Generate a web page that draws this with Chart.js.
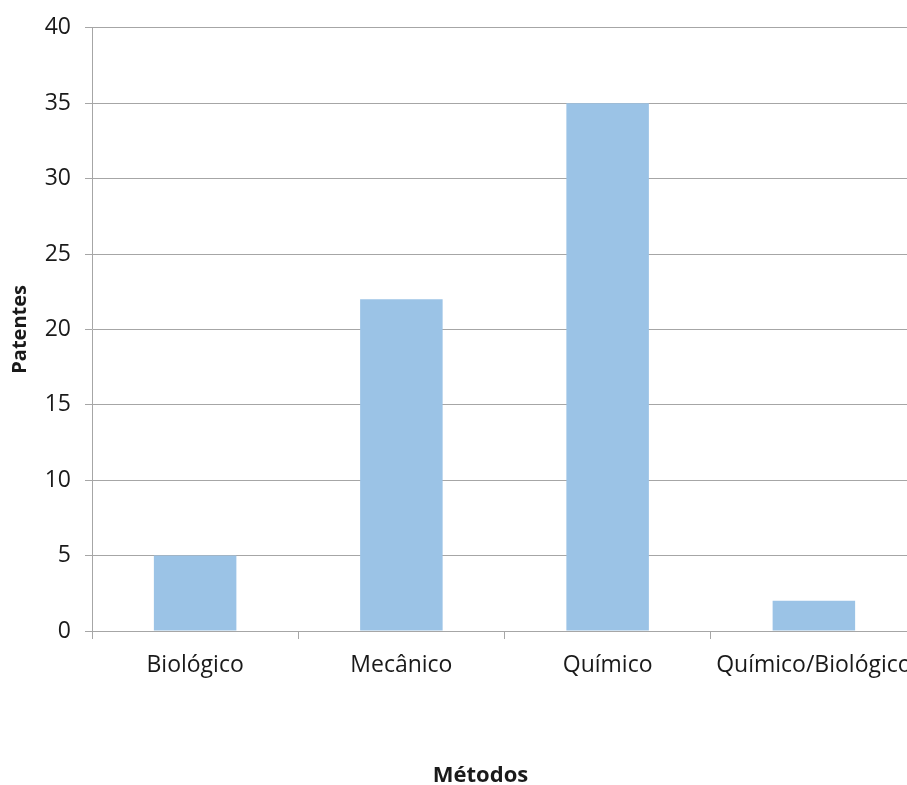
<!DOCTYPE html>
<html>
<head>
<meta charset="utf-8">
<script src="https://cdn.jsdelivr.net/npm/chart.js@4"></script>
<style>
    html, body { margin: 0; padding: 0; background: #fff; overflow: hidden; }
    #wrap { width: 930px; height: 785px; position: relative; }
</style>
</head>
<body>
<div id="wrap"><canvas id="chart"></canvas></div>
<script>
const categories = ["Biológico", "Mecânico", "Químico", "Químico/Biológico"];
const patentes = [5, 22, 35, 2];
const yTicks = [0, 5, 10, 15, 20, 25, 30, 35, 40];
const xTitle = "Métodos";
const yTitle = "Patentes";

const textColor = "#1a1a1a";
const gridColor = "#a6a6a6";
const fontFamily = "Open Sans";

// x title sits centred on the original (wider) page, a bit left of the plot centre
const xTitlePlugin = {
    id: "xTitle",
    afterDraw(chart) {
        const ctx = chart.ctx;
        const area = chart.chartArea;
        ctx.save();
        ctx.fillStyle = textColor;
        ctx.font = "bold 22px '" + fontFamily + "'";
        ctx.textAlign = "center";
        ctx.textBaseline = "middle";
        ctx.fillText(xTitle, (area.left + area.right) / 2 - 24, chart.height - 9);
        ctx.restore();
    }
};

new Chart(document.getElementById("chart"), {
    type: "bar",
    data: {
        labels: categories,
        datasets: [{
            label: yTitle,
            data: patentes,
            backgroundColor: "#9bc3e6",
            borderWidth: 0,
            categoryPercentage: 1.0,
            barPercentage: 0.4
        }]
    },
    plugins: [xTitlePlugin],
    options: {
        responsive: true,
        maintainAspectRatio: false,
        animation: false,
        layout: { padding: { top: 21, right: 13, left: 0, bottom: 0 } },
        plugins: {
            legend: { display: false },
            tooltip: { enabled: false }
        },
        scales: {
            x: {
                grid: {
                    offset: true,
                    drawOnChartArea: false,
                    drawTicks: true,
                    tickLength: 8,
                    color: gridColor
                },
                border: { color: gridColor },
                ticks: {
                    color: textColor,
                    font: { family: fontFamily, size: 23 },
                    maxRotation: 0,
                    autoSkip: false,
                    padding: 13
                },
                afterFit: scale => { scale.height = 154; }
            },
            y: {
                min: 0,
                max: 40,
                afterBuildTicks: scale => {
                    scale.ticks = yTicks.map(v => ({ value: v }));
                },
                grid: {
                    color: gridColor,
                    tickLength: 7
                },
                border: { color: gridColor },
                ticks: {
                    color: textColor,
                    font: { family: fontFamily, size: 23 },
                    padding: 14
                },
                title: {
                    display: true,
                    text: yTitle,
                    color: textColor,
                    font: { family: fontFamily, size: 20, weight: "bold" },
                    padding: { top: 8, bottom: 0 }
                },
                afterFit: scale => { scale.width = 92; }
            }
        }
    }
});
</script>
</body>
</html>
